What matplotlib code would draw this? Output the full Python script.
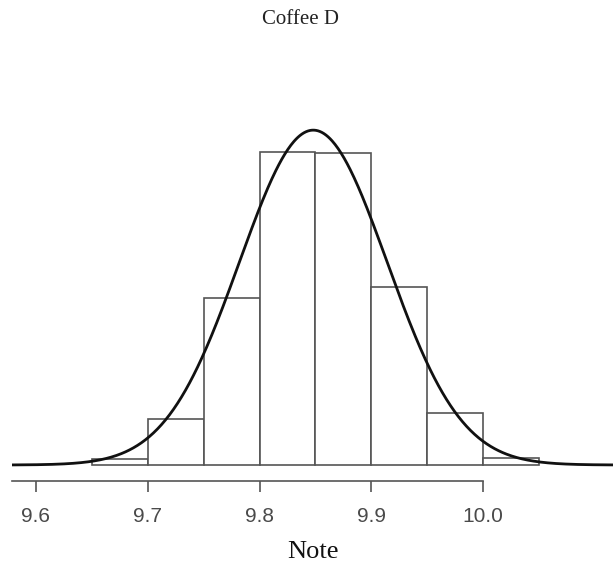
import numpy as np
import matplotlib
matplotlib.use("Agg")
import matplotlib.pyplot as plt

# Histogram (density) of Coffee D notes
bin_edges = [9.65, 9.70, 9.75, 9.80, 9.85, 9.90, 9.95, 10.00, 10.05]
densities = [0.10, 0.83, 3.01, 5.65, 5.63, 3.21, 0.94, 0.13]
# fitted normal curve parameters
mu = 9.848
sigma = 0.066

tick_values = [9.6, 9.7, 9.8, 9.9, 10.0]
tick_labels = ["9.6", "9.7", "9.8", "9.9", "10.0"]

W, H = 613, 570
fig = plt.figure(figsize=(W / 100, H / 100), dpi=100)
ax_left, ax_right = 12, 613
ax_top, ax_bottom = 40, 481
ax = fig.add_axes([ax_left / W, 1 - ax_bottom / H, (ax_right - ax_left) / W, (ax_bottom - ax_top) / H])

px_per_unit = 55.4
x0 = 9.6 - (36 - ax_left) / 1118.0
x1 = 9.6 + (ax_right - 36) / 1118.0
ax.set_xlim(x0, x1)
ax.set_ylim(-(ax_bottom - 465) / px_per_unit, (465 - ax_top) / px_per_unit)

lefts = bin_edges[:-1]
widths = np.diff(bin_edges)
ax.bar(lefts, densities, width=widths, align="edge", facecolor="white",
       edgecolor="#555555", linewidth=1.2, zorder=2)

xs = np.linspace(x0, x1, 600)
ys = np.exp(-0.5 * ((xs - mu) / sigma) ** 2) / (sigma * np.sqrt(2 * np.pi))
ax.plot(xs, ys, color="#111111", linewidth=2.0, zorder=3)

for s in ["top", "right", "left"]:
    ax.spines[s].set_visible(False)
ax.spines["bottom"].set_bounds(x0, 10.0)
ax.spines["bottom"].set_color("#555555")
ax.spines["bottom"].set_linewidth(1.2)
ax.set_yticks([])
ax.set_xticks(tick_values)
ax.set_xticklabels(tick_labels, fontsize=15, color="#4a4a4a", family="Liberation Sans")
ax.tick_params(axis="x", direction="out", length=8, width=1.2, color="#555555", pad=11)

fig.text(313 / W, 1 - 552 / H, "Note", ha="center", va="center", fontsize=19,
         family="Liberation Serif", color="#111111")
fig.text(301 / W, 1 - 20 / H, "Coffee D", ha="center", va="center", fontsize=15,
         family="Liberation Serif", color="#222222")

fig.savefig("out.png", dpi=100)
